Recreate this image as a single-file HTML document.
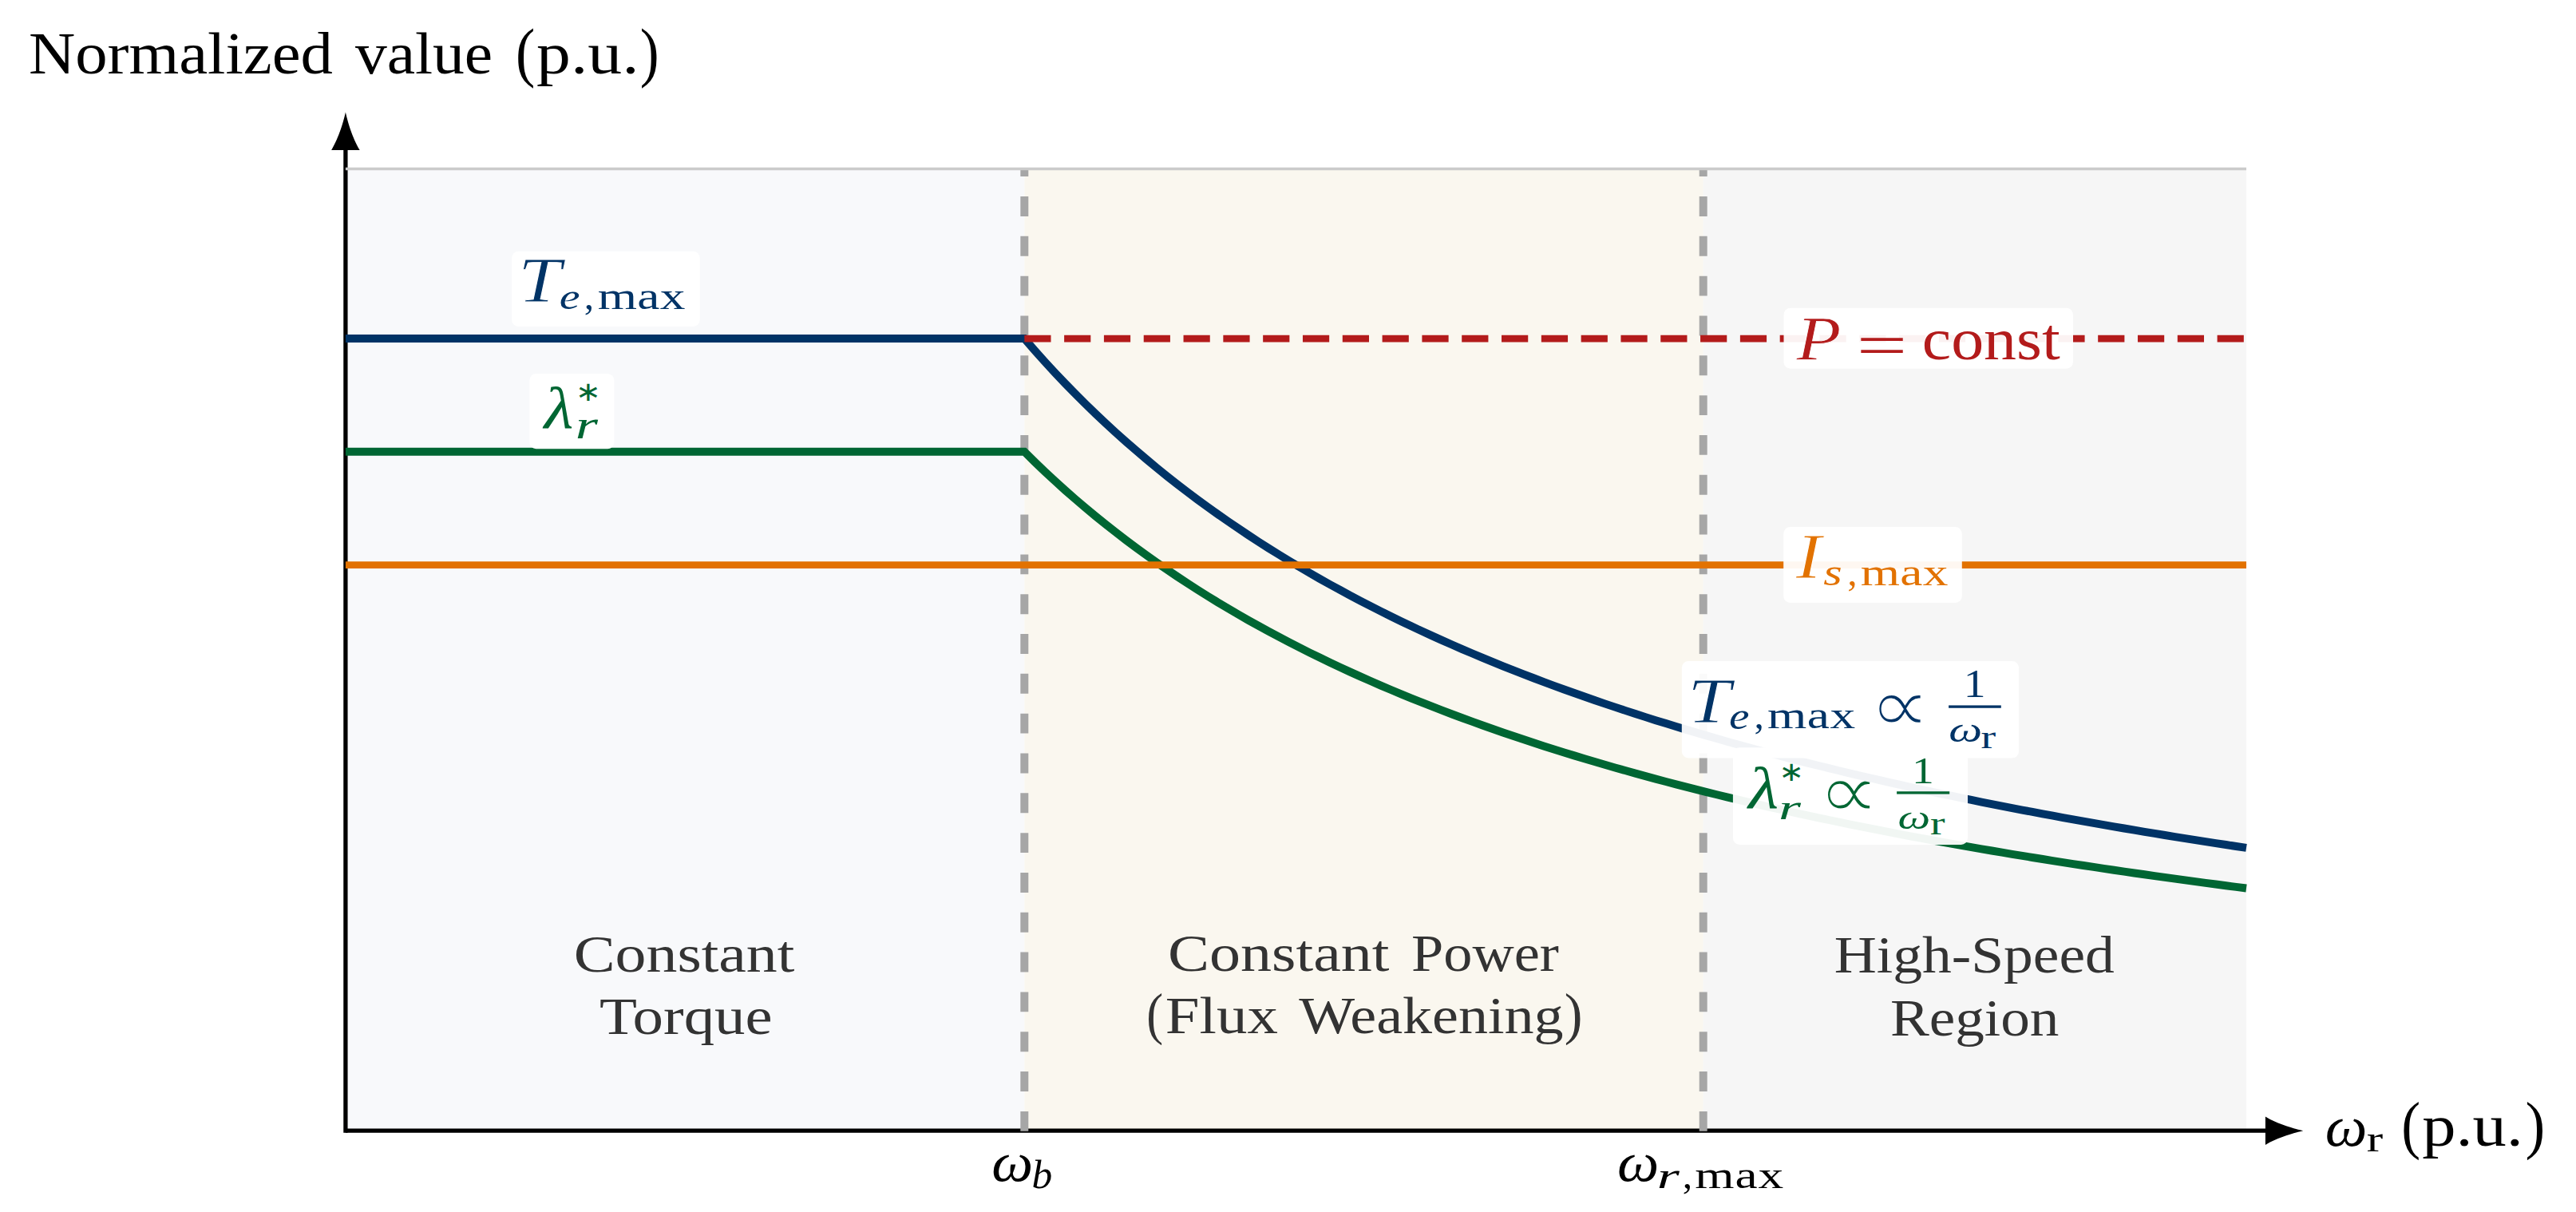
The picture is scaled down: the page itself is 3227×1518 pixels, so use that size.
<!DOCTYPE html>
<html><head><meta charset="utf-8"><title>Torque-speed envelope</title>
<style>
html,body{margin:0;padding:0;background:#fff}
svg{display:block}
text{font-family:'Liberation Serif', serif;white-space:pre}
</style></head><body>
<svg width="3227" height="1518" viewBox="0 0 3227 1518">
<rect width="3227" height="1518" fill="#fff"/>
<rect x="432.90" y="211.47" width="850.40" height="1204.73" fill="#F8F9FB"/>
<rect x="1283.30" y="211.47" width="850.40" height="1204.73" fill="#FAF7EF"/>
<rect x="2133.69" y="211.47" width="680.32" height="1204.73" fill="#F6F6F6"/>
<path d="M 432.90,1416.20 L 2839.88,1416.20" stroke="#000" stroke-width="5.28" fill="none"/>
<path d="M 432.90,1418.84 L 432.90,185.92" stroke="#000" stroke-width="5.28" fill="none"/>
<path d="M 47.32,0 C 38.80,1.77 15.14,8.25 0,17.75 L 0,-17.75 C 15.14,-8.25 38.80,-1.77 47.32,0 Z" transform="translate(2837.88 1416.20) rotate(0.0)" fill="#000"/>
<path d="M 47.32,0 C 38.80,1.77 15.14,8.25 0,17.75 L 0,-17.75 C 15.14,-8.25 38.80,-1.77 47.32,0 Z" transform="translate(432.90 187.92) rotate(-90.0)" fill="#000"/>
<path d="M 1283.30,1416.80 L 1283.30,211.47" stroke="#A6A6A6" stroke-width="9.96" stroke-dasharray="24.91 24.91" fill="none"/>
<path d="M 2133.69,1416.80 L 2133.69,211.47" stroke="#A6A6A6" stroke-width="9.96" stroke-dasharray="24.91 24.91" fill="none"/>
<path d="M 432.90,211.47 L 2814.01,211.47" stroke="#CBCBCB" stroke-width="3.32" fill="none"/>
<path d="M 432.90,565.80 L 1283.30,565.80 L 1296.05,578.37 L 1308.81,590.57 L 1321.56,602.42 L 1334.32,613.94 L 1347.07,625.13 L 1359.83,636.02 L 1372.59,646.61 L 1385.34,656.92 L 1398.10,666.95 L 1410.85,676.73 L 1423.61,686.25 L 1436.37,695.53 L 1449.12,704.57 L 1461.88,713.39 L 1474.63,722.00 L 1487.39,730.40 L 1500.15,738.59 L 1512.90,746.60 L 1525.66,754.41 L 1538.41,762.05 L 1551.17,769.51 L 1563.93,776.81 L 1576.68,783.94 L 1589.44,790.91 L 1602.19,797.73 L 1614.95,804.41 L 1627.71,810.94 L 1640.46,817.33 L 1653.22,823.59 L 1665.97,829.72 L 1678.73,835.73 L 1691.48,841.61 L 1704.24,847.37 L 1717.00,853.02 L 1729.75,858.56 L 1742.51,864.00 L 1755.26,869.32 L 1768.02,874.55 L 1780.78,879.67 L 1793.53,884.70 L 1806.29,889.64 L 1819.04,894.49 L 1831.80,899.24 L 1844.56,903.91 L 1857.31,908.50 L 1870.07,913.01 L 1882.82,917.43 L 1895.58,921.78 L 1908.34,926.06 L 1921.09,930.26 L 1933.85,934.39 L 1946.60,938.45 L 1959.36,942.44 L 1972.11,946.37 L 1984.87,950.23 L 1997.63,954.03 L 2010.38,957.77 L 2023.14,961.44 L 2035.89,965.06 L 2048.65,968.62 L 2061.41,972.13 L 2074.16,975.58 L 2086.92,978.98 L 2099.67,982.32 L 2112.43,985.62 L 2125.19,988.87 L 2137.94,992.06 L 2150.70,995.21 L 2163.45,998.32 L 2176.21,1001.37 L 2188.97,1004.39 L 2201.72,1007.36 L 2214.48,1010.28 L 2227.23,1013.17 L 2239.99,1016.01 L 2252.75,1018.82 L 2265.50,1021.59 L 2278.26,1024.31 L 2291.01,1027.00 L 2303.77,1029.66 L 2316.52,1032.27 L 2329.28,1034.86 L 2342.04,1037.40 L 2354.79,1039.92 L 2367.55,1042.40 L 2380.30,1044.85 L 2393.06,1047.27 L 2405.82,1049.65 L 2418.57,1052.01 L 2431.33,1054.33 L 2444.08,1056.62 L 2456.84,1058.89 L 2469.60,1061.13 L 2482.35,1063.34 L 2495.11,1065.52 L 2507.86,1067.68 L 2520.62,1069.81 L 2533.38,1071.91 L 2546.13,1073.99 L 2558.89,1076.04 L 2571.64,1078.07 L 2584.40,1080.08 L 2597.16,1082.06 L 2609.91,1084.01 L 2622.67,1085.95 L 2635.42,1087.86 L 2648.18,1089.75 L 2660.93,1091.62 L 2673.69,1093.47 L 2686.45,1095.30 L 2699.20,1097.10 L 2711.96,1098.89 L 2724.71,1100.65 L 2737.47,1102.40 L 2750.23,1104.13 L 2762.98,1105.84 L 2775.74,1107.53 L 2788.49,1109.20 L 2801.25,1110.85 L 2814.01,1112.49" stroke="#006633" stroke-width="9.96" fill="none" stroke-linejoin="miter"/>
<path d="M 432.90,424.07 L 1283.30,424.07 L 1296.05,438.73 L 1308.81,452.97 L 1321.56,466.80 L 1334.32,480.23 L 1347.07,493.29 L 1359.83,505.99 L 1372.59,518.35 L 1385.34,530.37 L 1398.10,542.08 L 1410.85,553.48 L 1423.61,564.59 L 1436.37,575.41 L 1449.12,585.97 L 1461.88,596.26 L 1474.63,606.30 L 1487.39,616.10 L 1500.15,625.66 L 1512.90,635.00 L 1525.66,644.12 L 1538.41,653.02 L 1551.17,661.73 L 1563.93,670.24 L 1576.68,678.56 L 1589.44,686.69 L 1602.19,694.65 L 1614.95,702.44 L 1627.71,710.06 L 1640.46,717.52 L 1653.22,724.82 L 1665.97,731.97 L 1678.73,738.98 L 1691.48,745.84 L 1704.24,752.57 L 1717.00,759.16 L 1729.75,765.62 L 1742.51,771.96 L 1755.26,778.18 L 1768.02,784.27 L 1780.78,790.25 L 1793.53,796.12 L 1806.29,801.88 L 1819.04,807.53 L 1831.80,813.08 L 1844.56,818.53 L 1857.31,823.89 L 1870.07,829.14 L 1882.82,834.31 L 1895.58,839.38 L 1908.34,844.37 L 1921.09,849.27 L 1933.85,854.09 L 1946.60,858.82 L 1959.36,863.48 L 1972.11,868.06 L 1984.87,872.57 L 1997.63,877.00 L 2010.38,881.36 L 2023.14,885.65 L 2035.89,889.87 L 2048.65,894.03 L 2061.41,898.12 L 2074.16,902.14 L 2086.92,906.11 L 2099.67,910.01 L 2112.43,913.86 L 2125.19,917.64 L 2137.94,921.37 L 2150.70,925.05 L 2163.45,928.67 L 2176.21,932.24 L 2188.97,935.75 L 2201.72,939.22 L 2214.48,942.63 L 2227.23,946.00 L 2239.99,949.32 L 2252.75,952.59 L 2265.50,955.82 L 2278.26,959.00 L 2291.01,962.14 L 2303.77,965.23 L 2316.52,968.29 L 2329.28,971.30 L 2342.04,974.27 L 2354.79,977.21 L 2367.55,980.10 L 2380.30,982.96 L 2393.06,985.78 L 2405.82,988.56 L 2418.57,991.31 L 2431.33,994.02 L 2444.08,996.70 L 2456.84,999.34 L 2469.60,1001.95 L 2482.35,1004.53 L 2495.11,1007.08 L 2507.86,1009.59 L 2520.62,1012.07 L 2533.38,1014.53 L 2546.13,1016.95 L 2558.89,1019.35 L 2571.64,1021.72 L 2584.40,1024.05 L 2597.16,1026.37 L 2609.91,1028.65 L 2622.67,1030.91 L 2635.42,1033.14 L 2648.18,1035.34 L 2660.93,1037.53 L 2673.69,1039.68 L 2686.45,1041.81 L 2699.20,1043.92 L 2711.96,1046.00 L 2724.71,1048.06 L 2737.47,1050.10 L 2750.23,1052.12 L 2762.98,1054.11 L 2775.74,1056.08 L 2788.49,1058.03 L 2801.25,1059.96 L 2814.01,1061.87" stroke="#003366" stroke-width="9.96" fill="none" stroke-linejoin="miter"/>
<path d="M 432.90,707.54 L 2814.01,707.54" stroke="#E27200" stroke-width="8.80" fill="none"/>
<path d="M 1283.30,424.07 L 2814.01,424.07" stroke="#B31B1B" stroke-width="8.80" stroke-dasharray="33.21 16.60" fill="none"/>
<rect x="641.1" y="314.7" width="235.6" height="94.3" rx="8.3" ry="8.3" fill="#fff" fill-opacity="0.945"/>
<rect x="663.3" y="468.1" width="106.1" height="94.2" rx="8.3" ry="8.3" fill="#fff" fill-opacity="0.945"/>
<rect x="2234.5" y="385.7" width="362.5" height="76.0" rx="8.3" ry="8.3" fill="#fff" fill-opacity="0.945"/>
<rect x="2234.2" y="660.1" width="223.6" height="94.9" rx="8.3" ry="8.3" fill="#fff" fill-opacity="0.945"/>
<rect x="2106.8" y="828.0" width="422.3" height="121.5" rx="8.3" ry="8.3" fill="#fff" fill-opacity="0.945"/>
<rect x="2170.9" y="936.3" width="294.1" height="121.7" rx="8.3" ry="8.3" fill="#fff" fill-opacity="0.945"/>
<rect x="2441.1" y="883.44" width="65.7" height="3.32" fill="#003366"/>
<rect x="2376.1" y="991.24" width="66.1" height="3.32" fill="#006633"/>
<text transform="translate(35.98 91.60) scale(1.0979 1)" font-size="73.50" fill="#000">Normalized</text>
<text transform="translate(444.90 91.60) scale(1.0822 1)" font-size="73.50" fill="#000">value</text>
<text transform="translate(645.90 93.01) scale(0.8862 1)" font-size="82.16" fill="#000">(</text>
<text transform="translate(672.12 91.60) scale(1.1658 1)" font-size="73.50" fill="#000">p.u.</text>
<text transform="translate(801.69 93.01) scale(0.8719 1)" font-size="82.16" fill="#000">)</text>
<text transform="translate(2912.82 1435.40) scale(1.0312 1)" font-size="72.32" fill="#000" font-style="italic">ω</text>
<text transform="translate(2964.87 1442.20) scale(1.2989 1)" font-size="47.33" fill="#000">r</text>
<text transform="translate(3008.25 1435.57) scale(0.8802 1)" font-size="81.39" fill="#000">(</text>
<text transform="translate(3034.24 1435.40) scale(1.1495 1)" font-size="73.50" fill="#000">p.u.</text>
<text transform="translate(3163.60 1435.57) scale(0.9137 1)" font-size="81.39" fill="#000">)</text>
<text transform="translate(1242.26 1479.30) scale(1.0553 1)" font-size="69.76" fill="#000" font-style="italic">ω</text>
<text transform="translate(1292.49 1488.20) scale(1.0248 1)" font-size="50.30" fill="#000" font-style="italic">b</text>
<text transform="translate(2025.94 1479.40) scale(1.0557 1)" font-size="70.19" fill="#000" font-style="italic">ω</text>
<text transform="translate(2075.87 1487.90) scale(1.5545 1)" font-size="46.48" fill="#000" font-style="italic">r</text>
<text transform="translate(2107.68 1487.90) scale(1.0000 1)" font-size="49.50" fill="#000">,</text>
<text transform="translate(2123.37 1487.90) scale(1.2800 1)" font-size="49.50" fill="#000" letter-spacing="0.67">max</text>
<text transform="translate(718.71 1217.00) scale(1.1704 1)" font-size="66.50" fill="#333333">Constant</text>
<text transform="translate(751.01 1295.40) scale(1.1562 1)" font-size="66.50" fill="#333333">Torque</text>
<text transform="translate(1463.00 1215.60) scale(1.1739 1)" font-size="66.50" fill="#333333">Constant</text>
<text transform="translate(1768.12 1215.60) scale(1.0877 1)" font-size="66.50" fill="#333333">Power</text>
<text transform="translate(1436.35 1294.47) scale(0.8651 1)" font-size="72.46" fill="#333333">(</text>
<text transform="translate(1459.78 1293.80) scale(1.1574 1)" font-size="66.50" fill="#333333">Flux</text>
<text transform="translate(1627.33 1293.80) scale(1.1137 1)" font-size="66.50" fill="#333333">Weakening</text>
<text transform="translate(1959.80 1294.47) scale(0.9404 1)" font-size="72.46" fill="#333333">)</text>
<text transform="translate(2297.68 1218.30) scale(1.1056 1)" font-size="66.50" fill="#333333">High-Speed</text>
<text transform="translate(2367.89 1296.60) scale(1.1016 1)" font-size="66.50" fill="#333333">Region</text>
<text transform="translate(648.97 378.30) scale(1.2184 1)" font-size="79.42" fill="#003366" font-style="italic" stroke="#fff" stroke-width="0.90">T</text>
<text transform="translate(700.81 387.00) scale(1.2446 1)" font-size="46.69" fill="#003366" font-style="italic">e</text>
<text transform="translate(731.83 387.20) scale(1.0000 1)" font-size="49.50" fill="#003366">,</text>
<text transform="translate(748.67 387.20) scale(1.2800 1)" font-size="49.50" fill="#003366" letter-spacing="0.24">max</text>
<text transform="translate(681.77 536.30) scale(1.1455 1)" font-size="73.85" fill="#006633" font-style="italic">λ</text>
<text transform="translate(720.83 502.10) scale(1.1259 1)" font-size="33.97" fill="#006633" style="font-family:'DejaVu Sans', sans-serif">∗</text>
<text transform="translate(720.86 548.70) scale(1.4482 1)" font-size="50.09" fill="#006633" font-style="italic">r</text>
<text transform="translate(2250.59 450.40) scale(1.1733 1)" font-size="78.04" fill="#B31B1B" font-style="italic" stroke="#fff" stroke-width="0.74">P</text>
<text transform="translate(2325.79 457.04) scale(1.5300 1)" font-size="73.60" fill="#B31B1B">=</text>
<text transform="translate(2407.78 450.40) scale(1.1151 1)" font-size="73.50" fill="#B31B1B">const</text>
<text transform="translate(2249.87 724.40) scale(1.2011 1)" font-size="79.72" fill="#E27200" font-style="italic" stroke="#fff" stroke-width="0.91">I</text>
<text transform="translate(2284.26 733.20) scale(1.2625 1)" font-size="47.75" fill="#E27200" font-style="italic">s</text>
<text transform="translate(2314.13 733.10) scale(1.0000 1)" font-size="49.50" fill="#E27200">,</text>
<text transform="translate(2330.67 733.10) scale(1.2800 1)" font-size="49.50" fill="#E27200" letter-spacing="0.24">max</text>
<text transform="translate(2113.96 904.50) scale(1.2091 1)" font-size="80.18" fill="#003366" font-style="italic" stroke="#fff" stroke-width="0.91">T</text>
<text transform="translate(2166.04 912.50) scale(1.2009 1)" font-size="47.75" fill="#003366" font-style="italic">e</text>
<text transform="translate(2197.38 912.30) scale(1.0000 1)" font-size="49.50" fill="#003366">,</text>
<text transform="translate(2213.97 912.30) scale(1.2800 1)" font-size="49.50" fill="#003366" letter-spacing="0.44">max</text>
<text transform="translate(2341.15 917.39) scale(1.1128 1)" font-size="97.87" fill="#003366" style="font-family:'DejaVu Sans', sans-serif" stroke="#fff" stroke-width="2.75">∝</text>
<text transform="translate(2459.81 873.30) scale(1.1104 1)" font-size="50.14" fill="#003366">1</text>
<text transform="translate(2441.33 929.00) scale(1.3239 1)" font-size="44.80" fill="#003366" font-style="italic">ω</text>
<text transform="translate(2481.47 937.00) scale(1.3724 1)" font-size="40.96" fill="#003366">r</text>
<text transform="translate(2190.13 1011.80) scale(1.1696 1)" font-size="74.71" fill="#006633" font-style="italic">λ</text>
<text transform="translate(2228.19 978.40) scale(1.1107 1)" font-size="33.97" fill="#006633" style="font-family:'DejaVu Sans', sans-serif">∗</text>
<text transform="translate(2228.08 1025.70) scale(1.5995 1)" font-size="44.99" fill="#006633" font-style="italic">r</text>
<clipPath id="cp"><path d="M 2277.8,964.47 L 2315.9,973.72 L 2354.0,982.61 L 2354.0,1024.0 L 2277.8,1024.0 Z"/></clipPath>
<g clip-path="url(#cp)"><text transform="translate(2276.50 1024.51) scale(1.1150 1)" font-size="98.93" fill="#006633" style="font-family:'DejaVu Sans', sans-serif" stroke="#fff" stroke-width="2.74">∝</text></g>
<text transform="translate(2394.91 980.90) scale(1.1856 1)" font-size="46.96" fill="#006633">1</text>
<text transform="translate(2377.39 1037.80) scale(1.3627 1)" font-size="42.24" fill="#006633" font-style="italic">ω</text>
<text transform="translate(2417.88 1044.90) scale(1.3715 1)" font-size="40.75" fill="#006633">r</text>
</svg>
</body></html>
